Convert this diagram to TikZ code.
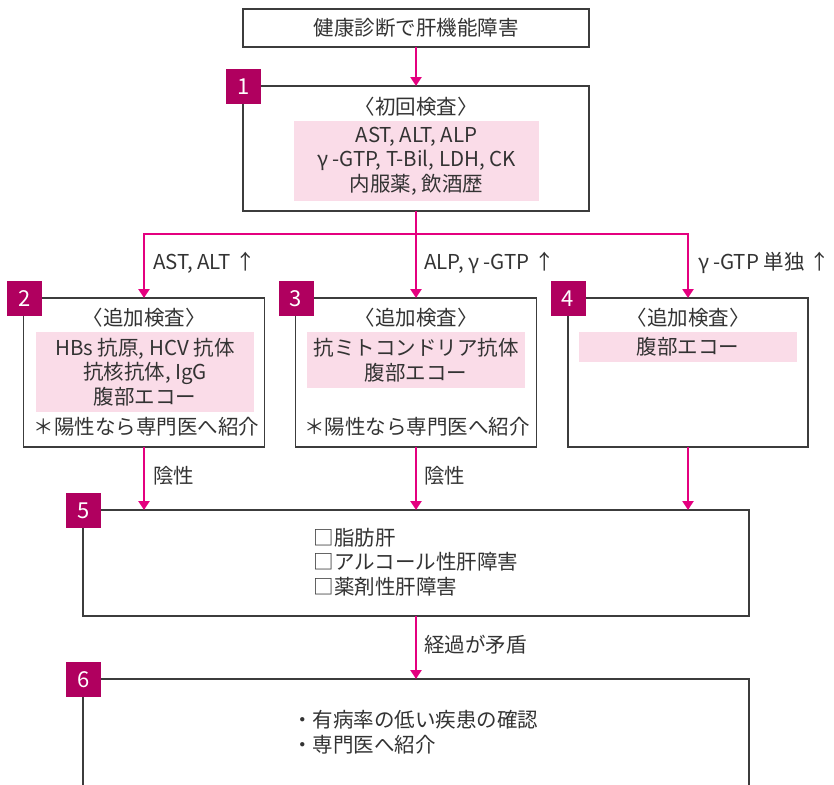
\documentclass[tikz,border=0pt]{standalone}
\usepackage{fontspec}
\setmainfont{Noto Sans CJK JP}
\usetikzlibrary{arrows.meta}
\definecolor{mag}{HTML}{E4007F}
\definecolor{tagc}{HTML}{B0005F}
\definecolor{pinkbg}{HTML}{FADCE8}
\definecolor{txtc}{HTML}{333333}
\definecolor{framec}{HTML}{3C3C3C}
\newcommand\openang{\hbox to 0.5em{\hss 〈}}
\newcommand\closeang{\hbox to 0.5em{〉\hss}}
\newcommand\gam{\textit{γ}\hspace{4pt}}
\begin{document}
\begin{tikzpicture}[x=1pt,y=-1pt,
  every node/.style={font=\fontsize{20.5}{24.5}\selectfont, text=txtc, inner sep=0pt, outer sep=0pt},
  frame/.style={draw=framec, line width=1.3pt, fill=white, rectangle},
  shade/.style={fill=pinkbg, draw=none, rectangle, align=center},
  tag/.style={fill=tagc, text=white, minimum width=35pt, minimum height=35pt, font=\fontsize{22}{22}\selectfont},
  flow/.style={draw=mag, line width=2.6pt},
  flowarrow/.style={flow, -{Triangle[width=11pt,length=9pt]}},
  lbl/.style={anchor=west}]
\clip (0,0) rectangle (834,784);

% boxes
\node[frame, minimum width=346pt, minimum height=38pt] (top) at (416,28) {健康診断で肝機能障害};
\node[frame, minimum width=346pt, minimum height=125pt] (n1) at (416,148.5) {};
\node[frame, minimum width=241pt, minimum height=149pt] (n2) at (144,372.5) {};
\node[frame, minimum width=241pt, minimum height=149pt] (n3) at (416,372.5) {};
\node[frame, minimum width=240pt, minimum height=149pt] (n4) at (688,372.5) {};
\node[frame, minimum width=666pt, minimum height=106pt] (n5) at (416,563) {};
\node[frame, minimum width=666pt, minimum height=121pt] (n6) at (416,739.5) {};

% box 1 content
\node (h1) at (416,107) {\openang 初回検査\closeang};
\node[shade, minimum width=245pt, minimum height=80pt] (s1) at (416.5,161) {AST, ALT, ALP\\\gam-GTP, T-Bil, LDH, CK\\内服薬, 飲酒歴};

% box 2 content
\node (h2) at (144,318) {\openang 追加検査\closeang};
\node[shade, minimum width=218pt, minimum height=80pt] (s2) at (145,372) {HBs 抗原, HCV 抗体\\抗核抗体, IgG\\腹部エコー};
\node (p2) at (146.5,427) {＊陽性なら専門医へ紹介};

% box 3 content
\node (h3) at (416,318) {\openang 追加検査\closeang};
\node[shade, minimum width=218pt, minimum height=56pt] (s3) at (416,360) {抗ミトコンドリア抗体\\腹部エコー};
\node (p3) at (417,427) {＊陽性なら専門医へ紹介};

% box 4 content
\node (h4) at (688,318) {\openang 追加検査\closeang};
\node[shade, minimum width=218pt, minimum height=30pt] (s4) at (688,347) {腹部エコー};

% box 5 and 6 content
\node[align=left] (c5) at (416,562) {□脂肪肝\\□アルコール性肝障害\\□薬剤性肝障害};
\node[align=left] (c6) at (415,732) {・有病率の低い疾患の確認\\・専門医へ紹介};

% connectors
\coordinate (split) at (416,234);
\draw[flowarrow] (top) -- (n1);
\draw[flow] (n1.south) -- (split);
\draw[flowarrow] (split) -| (n2.north);
\draw[flowarrow] (split) -- (n3.north);
\draw[flowarrow] (split) -| (n4.north);
\draw[flowarrow] (n2.south) -- (n2.south |- n5.north);
\draw[flowarrow] (n3.south) -- (n3.south |- n5.north);
\draw[flowarrow] (n4.south) -- (n4.south |- n5.north);
\draw[flowarrow] (n5.south) -- (n6.north);

% connector labels
\node[lbl] (l2) at (153,263) {AST, ALT ↑};
\node[lbl] (l3) at (424,263) {ALP, \gam-GTP ↑};
\node[lbl] (l4) at (698,263) {\gam-GTP 単独 ↑};
\node[lbl] (l25) at (153,476) {陰性};
\node[lbl] (l35) at (424,476) {陰性};
\node[lbl] (l56) at (424,645) {経過が矛盾};

% tags
\node[tag] (t1) at (243.5,86.5) {1};
\node[tag] (t2) at (24.5,298.5) {2};
\node[tag] (t3) at (296,298.5) {3};
\node[tag] (t4) at (568,298.5) {4};
\node[tag] (t5) at (83.5,510.5) {5};
\node[tag] (t6) at (83.5,679.5) {6};
\end{tikzpicture}
\end{document}
